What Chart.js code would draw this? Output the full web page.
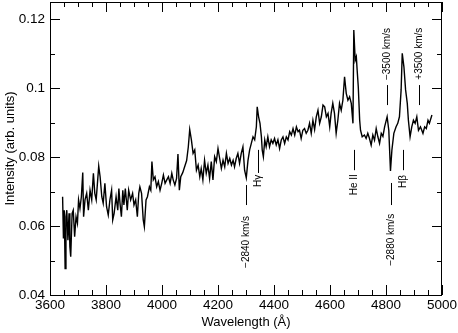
<!DOCTYPE html>
<html>
<head>
<meta charset="utf-8">
<script src="https://cdn.jsdelivr.net/npm/chart.js@4.4.0/dist/chart.umd.min.js"></script>
<style>
  html, body { margin: 0; padding: 0; background: #fff; }
</style>
</head>
<body>
<canvas id="myChart" width="458" height="333"></canvas>
<script>
// spectrum
var wavelength = [
  3645, 3648, 3651, 3654, 3657, 3660, 3664, 3668, 3671, 3674, 3679, 3683, 3688, 3693, 3698,
  3702, 3707, 3712, 3717, 3720, 3725, 3731, 3737, 3743, 3749, 3755, 3760, 3765, 3774, 3779,
  3785, 3790, 3796, 3802, 3808, 3814, 3820, 3824, 3829, 3836, 3842, 3846, 3850, 3855, 3860,
  3864, 3869, 3876, 3881, 3888, 3895, 3900, 3906, 3912, 3917, 3921, 3927, 3933, 3937, 3943,
  3948, 3955, 3960, 3964, 3969, 3975, 3981, 3987, 3993, 3999, 4005, 4011, 4017, 4023, 4029,
  4035, 4040, 4046, 4052, 4057, 4062, 4067, 4074, 4082, 4088, 4094, 4099, 4105, 4111, 4117,
  4123, 4129, 4135, 4140, 4146, 4152, 4158, 4164, 4170, 4176, 4182, 4188, 4194, 4200, 4206,
  4212, 4218, 4224, 4230, 4236, 4242, 4248, 4254, 4259, 4265, 4271, 4277, 4283, 4289, 4295,
  4301, 4307, 4313, 4319, 4325, 4331, 4337, 4340, 4345, 4350, 4355, 4358, 4362, 4367, 4372,
  4378, 4384, 4390, 4396, 4402, 4408, 4414, 4420, 4426, 4432, 4438, 4444, 4450, 4456, 4462,
  4468, 4474, 4480, 4486, 4491, 4497, 4503, 4509, 4515, 4521, 4527, 4533, 4539, 4545, 4551,
  4557, 4563, 4569, 4575, 4581, 4587, 4593, 4599, 4604, 4610, 4616, 4622, 4628, 4634, 4640,
  4646, 4652, 4658, 4664, 4670, 4676, 4682, 4685, 4690, 4694, 4697, 4701, 4706, 4709, 4715,
  4723, 4729, 4735, 4741, 4747, 4753, 4759, 4765, 4771, 4777, 4783, 4789, 4795, 4804, 4810,
  4816, 4821, 4828, 4836, 4842, 4848, 4854, 4858, 4864, 4870, 4876, 4880, 4886, 4892, 4898,
  4904, 4910, 4916, 4923, 4932, 4938, 4944, 4950, 4955, 4964
];
var intensity = [
  0.0685, 0.0564, 0.0646, 0.0477, 0.0627, 0.0646, 0.0559, 0.0637, 0.0540, 0.0511, 0.0637, 0.0646, 0.0569, 0.0627, 0.0608,
  0.0676, 0.0651, 0.0685, 0.0755, 0.0627, 0.0676, 0.0695, 0.0646, 0.0704, 0.0676, 0.0753, 0.0695, 0.0676, 0.0774, 0.0743,
  0.0685, 0.0666, 0.0724, 0.0656, 0.0632, 0.0676, 0.0704, 0.0618, 0.0637, 0.0685, 0.0646, 0.0709, 0.0666, 0.0627, 0.0704,
  0.0661, 0.0709, 0.0646, 0.0704, 0.0676, 0.0695, 0.0661, 0.0676, 0.0627, 0.0695, 0.0714, 0.0695, 0.0618, 0.0598, 0.0676,
  0.0685, 0.0714, 0.0704, 0.0787, 0.0734, 0.0743, 0.0714, 0.0729, 0.0704, 0.0724, 0.0748, 0.0724, 0.0734, 0.0743, 0.0724,
  0.0753, 0.0734, 0.0719, 0.0738, 0.0809, 0.0704, 0.0743, 0.0755, 0.0775, 0.0790, 0.0830, 0.0880, 0.0850, 0.0811, 0.0821,
  0.0762, 0.0777, 0.0743, 0.0767, 0.0734, 0.0791, 0.0753, 0.0777, 0.0738, 0.0787, 0.0734, 0.0801, 0.0787, 0.0825, 0.0796,
  0.0767, 0.0791, 0.0772, 0.0811, 0.0782, 0.0796, 0.0777, 0.0791, 0.0772, 0.0796, 0.0811, 0.0782, 0.0811, 0.0830, 0.0762,
  0.0740, 0.0790, 0.0821, 0.0840, 0.0859, 0.0850, 0.0888, 0.0946, 0.0917, 0.0898, 0.0859, 0.0820, 0.0801, 0.0850, 0.0830,
  0.0859, 0.0830, 0.0850, 0.0840, 0.0854, 0.0835, 0.0850, 0.0825, 0.0850, 0.0859, 0.0840, 0.0859, 0.0850, 0.0874, 0.0864,
  0.0883, 0.0864, 0.0888, 0.0874, 0.0878, 0.0854, 0.0878, 0.0883, 0.0869, 0.0878, 0.0898, 0.0869, 0.0907, 0.0880, 0.0917,
  0.0936, 0.0898, 0.0917, 0.0951, 0.0946, 0.0917, 0.0927, 0.0888, 0.0927, 0.0956, 0.0927, 0.0869, 0.0907, 0.0956, 0.0936,
  0.0965, 0.1033, 0.0985, 0.0965, 0.0975, 0.0956, 0.0898, 0.1169, 0.1081, 0.1091, 0.1052, 0.1004, 0.0907, 0.0878, 0.0859,
  0.0864, 0.0854, 0.0869, 0.0854, 0.0835, 0.0864, 0.0849, 0.0883, 0.0859, 0.0840, 0.0869, 0.0860, 0.0888, 0.0917, 0.0878,
  0.0760, 0.0820, 0.0869, 0.0888, 0.0898, 0.0917, 0.0995, 0.1101, 0.1062, 0.0995, 0.0956, 0.0907, 0.0859, 0.0888, 0.0907,
  0.0898, 0.0917, 0.0878, 0.0888, 0.0869, 0.0888, 0.0883, 0.0907, 0.0898, 0.0922
];

var xTicks = [3600, 3800, 4000, 4200, 4400, 4600, 4800, 5000];
var xTickLabels = ["3600", "3800", "4000", "4200", "4400", "4600", "4800", "5000"];
var yTicks = [0.04, 0.06, 0.08, 0.1, 0.12];
var yTickLabels = ["0.04", "0.06", "0.08", "0.1", "0.12"];

// line identifications: wavelength, text, marker line (bottom/top value), label centre value
var markerWave  = [4300, 4344, 4686, 4817, 4862, 4805, 4919];
var markerText  = ["\u22122840 km/s", "H\u03b3", "He II", "\u22122880 km/s", "H\u03b2", "\u22123500 km/s", "+3500 km/s"];
var markerFrom  = [0.0661, 0.0754, 0.0762, 0.0661, 0.0762, 0.0951, 0.0951];
var markerTo    = [0.0719, 0.0821, 0.0821, 0.0725, 0.0821, 0.1009, 0.1009];
var markerLabel = [0.0554, 0.0731, 0.0720, 0.0560, 0.0729, 0.1099, 0.1100];

var FONT = '"Liberation Sans", Arial, Helvetica, sans-serif';

var points = [];
for (var i = 0; i < wavelength.length; i++) {
  points.push({x: wavelength[i], y: intensity[i]});
}

// box, inward ticks, axis titles and line labels
var framePlugin = {
  id: 'framePlugin',
  afterDraw: function(chart) {
    var ctx = chart.ctx;
    var a = chart.chartArea;
    var xs = chart.scales.x, ys = chart.scales.y;
    ctx.save();
    ctx.strokeStyle = '#000';
    ctx.lineWidth = 1;
    ctx.strokeRect(a.left + 0.5, a.top + 0.5, a.right - a.left - 1, a.bottom - a.top);

    ctx.beginPath();
    for (var w = 3600; w <= 5000; w += 50) {
      var px = Math.round(xs.getPixelForValue(w)) + 0.5;
      var len = (w % 200 === 0) ? 10 : 5;
      ctx.moveTo(px, a.bottom); ctx.lineTo(px, a.bottom - len);
      ctx.moveTo(px, a.top); ctx.lineTo(px, a.top + len);
    }
    for (var k = 4; k <= 12; k++) {
      var py = Math.round(ys.getPixelForValue(k / 100)) + 0.5;
      var l2 = (k % 2 === 0) ? 10 : 5;
      ctx.moveTo(a.left, py); ctx.lineTo(a.left + l2, py);
      ctx.moveTo(a.right, py); ctx.lineTo(a.right - l2, py);
    }
    ctx.stroke();

    // marker lines + rotated labels
    ctx.beginPath();
    for (var m = 0; m < markerWave.length; m++) {
      var mx = Math.round(xs.getPixelForValue(markerWave[m])) + 0.5;
      ctx.moveTo(mx, ys.getPixelForValue(markerFrom[m]));
      ctx.lineTo(mx, ys.getPixelForValue(markerTo[m]));
    }
    ctx.stroke();
    ctx.fillStyle = '#000';
    ctx.font = '10px ' + FONT;
    ctx.textAlign = 'center';
    ctx.textBaseline = 'middle';
    for (var n = 0; n < markerWave.length; n++) {
      ctx.save();
      ctx.translate(xs.getPixelForValue(markerWave[n]), ys.getPixelForValue(markerLabel[n]));
      ctx.rotate(-Math.PI / 2);
      ctx.fillText(markerText[n], 0, 0);
      ctx.restore();
    }

    // axis titles
    ctx.font = '13px ' + FONT;
    ctx.fillText('Wavelength (\u00c5)', (a.left + a.right) / 2, 322);
    ctx.save();
    ctx.translate(10, (a.top + a.bottom) / 2);
    ctx.rotate(-Math.PI / 2);
    ctx.fillText('Intensity (arb. units)', 0, 0);
    ctx.restore();
    ctx.restore();
  }
};

function noPad(scale) {
  scale.paddingTop = 0; scale.paddingBottom = 0;
  scale.paddingLeft = 0; scale.paddingRight = 0;
}

var ctx = document.getElementById("myChart");
var myChart = new Chart(ctx, {
  type: "line",
  data: {
    datasets: [{
      data: points,
      borderColor: "#000",
      borderWidth: 1.4,
      pointRadius: 0,
      tension: 0,
      fill: false
    }]
  },
  options: {
    responsive: false,
    animation: false,
    devicePixelRatio: 1,
    layout: { padding: { top: 2, right: 16, left: 0, bottom: 0 } },
    plugins: { legend: { display: false }, tooltip: { enabled: false } },
    scales: {
      x: {
        type: "linear",
        min: 3600,
        max: 5000,
        border: { display: false },
        grid: { display: false, drawTicks: false },
        afterBuildTicks: function(scale) {
          scale.ticks = xTicks.map(function(v) { return {value: v}; });
        },
        afterFit: function(scale) { scale.height = 38; noPad(scale); },
        ticks: {
          padding: 2,
          maxRotation: 0,
          autoSkip: false,
          color: "#000",
          font: { family: FONT, size: 13.5 },
          callback: function(v) { return xTickLabels[xTicks.indexOf(v)]; }
        }
      },
      y: {
        type: "linear",
        min: 0.04,
        max: 0.125,
        border: { display: false },
        grid: { display: false, drawTicks: false },
        afterBuildTicks: function(scale) {
          scale.ticks = yTicks.map(function(v) { return {value: v}; });
        },
        afterFit: function(scale) { scale.width = 50; noPad(scale); },
        ticks: {
          padding: 5,
          autoSkip: false,
          color: "#000",
          font: { family: FONT, size: 13.5 },
          callback: function(v) { return yTickLabels[yTicks.indexOf(v)]; }
        }
      }
    }
  },
  plugins: [framePlugin]
});
</script>
</body>
</html>
